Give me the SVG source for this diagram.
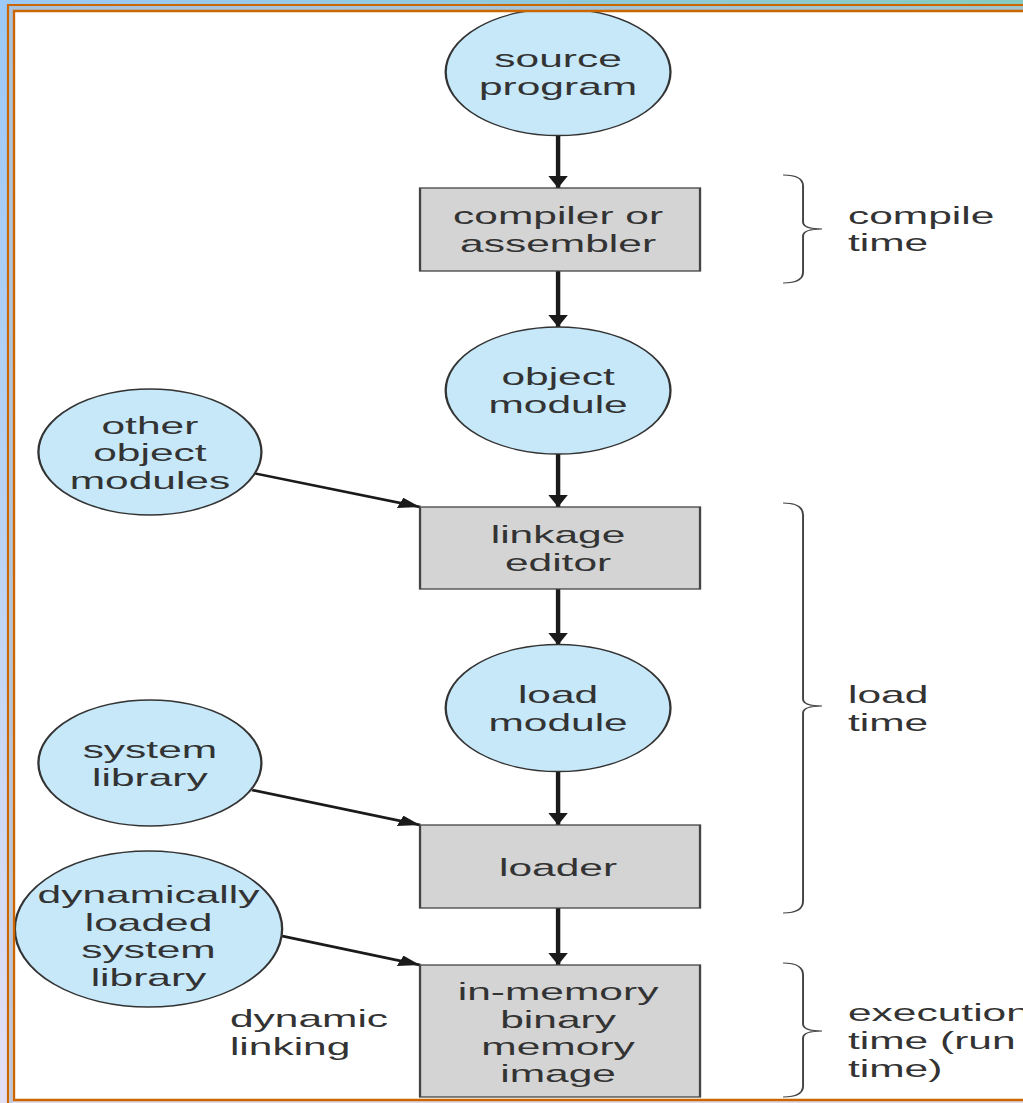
<svg xmlns="http://www.w3.org/2000/svg" width="1023" height="1103" viewBox="0 0 1023 1103">
<style>
.t{font-family:"Liberation Sans",Arial,Helvetica,sans-serif;font-size:24px;fill:#333}
.m{text-anchor:middle}
.c{fill:#c6e8f9;stroke:#333;stroke-width:1.3}
.b{fill:#d4d4d4;stroke:#444;stroke-width:1.3}
.a{fill:none;stroke:#1a1a1a;stroke-width:2.5;marker-end:url(#ah)}
.br{fill:none;stroke:#444;stroke-width:1.1}
</style>
<defs>
<marker id="ah" markerUnits="userSpaceOnUse" viewBox="0 0 12 11" markerWidth="12" markerHeight="11" refX="12" refY="5.5" orient="auto">
<path d="M0,0 L12,5.5 L0,11 Z" fill="#1a1a1a"/>
</marker>
<linearGradient id="gTop" x1="0" y1="0" x2="1" y2="0">
<stop offset="0" stop-color="#9cc9f6"/>
<stop offset="0.6" stop-color="#8fcad8"/>
<stop offset="1" stop-color="#88cabf"/>
</linearGradient>
<linearGradient id="gLeft" x1="0" y1="0" x2="0" y2="1">
<stop offset="0" stop-color="#9cc9f6"/>
<stop offset="0.5" stop-color="#bcd4f4"/>
<stop offset="1" stop-color="#e4e0f4"/>
</linearGradient>
</defs>
<rect x="0" y="0" width="1023" height="1103" fill="#fff"/>
<g transform="scale(1.77 1)">
<g id="connectors">
<line class="a" x1="315.3" y1="136" x2="315.3" y2="188"/>
<line class="a" x1="315.3" y1="271" x2="315.3" y2="327"/>
<line class="a" x1="315.3" y1="454" x2="315.3" y2="507"/>
<line class="a" x1="315.3" y1="589" x2="315.3" y2="645"/>
<line class="a" x1="315.3" y1="771" x2="315.3" y2="825"/>
<line class="a" x1="315.3" y1="908" x2="315.3" y2="965"/>
<line class="a" x1="142.9" y1="473" x2="237.3" y2="507"/>
<line class="a" x1="142.4" y1="790" x2="237.3" y2="825"/>
<line class="a" x1="159.3" y1="936" x2="237.3" y2="965"/>
</g>
<g id="source-program">
<circle class="c" cx="315.3" cy="72" r="63.5"/>
<text class="t m" x="315.3" y="67">source<tspan x="315.3" dy="28">program</tspan></text>
</g>
<g id="compiler">
<rect class="b" x="237.3" y="188" width="158.2" height="83"/>
<text class="t m" x="315.3" y="224.5">compiler or<tspan x="315.3" dy="28">assembler</tspan></text>
</g>
<g id="object-module">
<circle class="c" cx="315.3" cy="390.5" r="63.5"/>
<text class="t m" x="315.3" y="385">object<tspan x="315.3" dy="28">module</tspan></text>
</g>
<g id="other-object-modules">
<circle class="c" cx="84.7" cy="452" r="63"/>
<text class="t m" x="84.7" y="434">other<tspan x="84.7" dy="27.5">object</tspan><tspan x="84.7" dy="27.5">modules</tspan></text>
</g>
<g id="linkage-editor">
<rect class="b" x="237.3" y="507" width="158.2" height="82"/>
<text class="t m" x="315.3" y="543">linkage<tspan x="315.3" dy="28">editor</tspan></text>
</g>
<g id="load-module">
<circle class="c" cx="315.3" cy="708" r="63.5"/>
<text class="t m" x="315.3" y="703">load<tspan x="315.3" dy="28">module</tspan></text>
</g>
<g id="system-library">
<circle class="c" cx="84.7" cy="763" r="63"/>
<text class="t m" x="84.7" y="758">system<tspan x="84.7" dy="28">library</tspan></text>
</g>
<g id="loader">
<rect class="b" x="237.3" y="825" width="158.2" height="83"/>
<text class="t m" x="315.3" y="876">loader</text>
</g>
<g id="dynamically-loaded-system-library">
<ellipse class="c" cx="83.9" cy="929" rx="75.5" ry="78"/>
<text class="t m" x="83.9" y="903">dynamically<tspan x="83.9" dy="27.6">loaded</tspan><tspan x="83.9" dy="27.6">system</tspan><tspan x="83.9" dy="27.6">library</tspan></text>
</g>
<g id="in-memory-image">
<rect class="b" x="237.3" y="965" width="158.2" height="132"/>
<text class="t m" x="315.3" y="1000">in-memory<tspan x="315.3" dy="27.5">binary</tspan><tspan x="315.3" dy="27.5">memory</tspan><tspan x="315.3" dy="27.5">image</tspan></text>
</g>
<g id="dynamic-linking">
<text class="t" x="129.9" y="1027">dynamic<tspan x="129.9" dy="28">linking</tspan></text>
</g>
<g id="compile-time">
<path class="br" d="M442.4,175 Q453.7,175 453.7,186 L453.7,222 Q453.7,229 464.4,229 Q453.7,229 453.7,236 L453.7,272 Q453.7,283 442.4,283"/>
<text class="t" x="479.1" y="224">compile<tspan x="479.1" dy="27.5">time</tspan></text>
</g>
<g id="load-time">
<path class="br" d="M442.4,503 Q453.7,503 453.7,515 L453.7,699 Q453.7,706 464.4,706 Q453.7,706 453.7,713 L453.7,901 Q453.7,913 442.4,913"/>
<text class="t" x="479.1" y="703">load<tspan x="479.1" dy="28">time</tspan></text>
</g>
<g id="execution-time">
<path class="br" d="M442.4,963 Q453.7,963 453.7,975 L453.7,1024 Q453.7,1031 464.4,1031 Q453.7,1031 453.7,1038 L453.7,1086 Q453.7,1097 442.4,1097"/>
<text class="t" x="479.1" y="1021">execution<tspan x="479.1" dy="28">time (run</tspan><tspan x="479.1" dy="28">time)</tspan></text>
</g>
</g>
<g id="frame">
<rect x="0" y="0" width="1023" height="12" fill="url(#gTop)"/>
<rect x="0" y="0" width="15" height="1103" fill="url(#gLeft)"/>
<rect x="12" y="1101" width="1011" height="2" fill="#dcdcee"/>
<path d="M11,1103 V8 H1023" fill="none" stroke="#b0c0d2" stroke-width="3" opacity="0.8"/>
<path d="M8,1103 V5 H1023" fill="none" stroke="#cc6600" stroke-width="2.2"/>
<path d="M1023,1100 H14 V11 H1023" fill="none" stroke="#cc6600" stroke-width="2.4"/>
</g>
</svg>
